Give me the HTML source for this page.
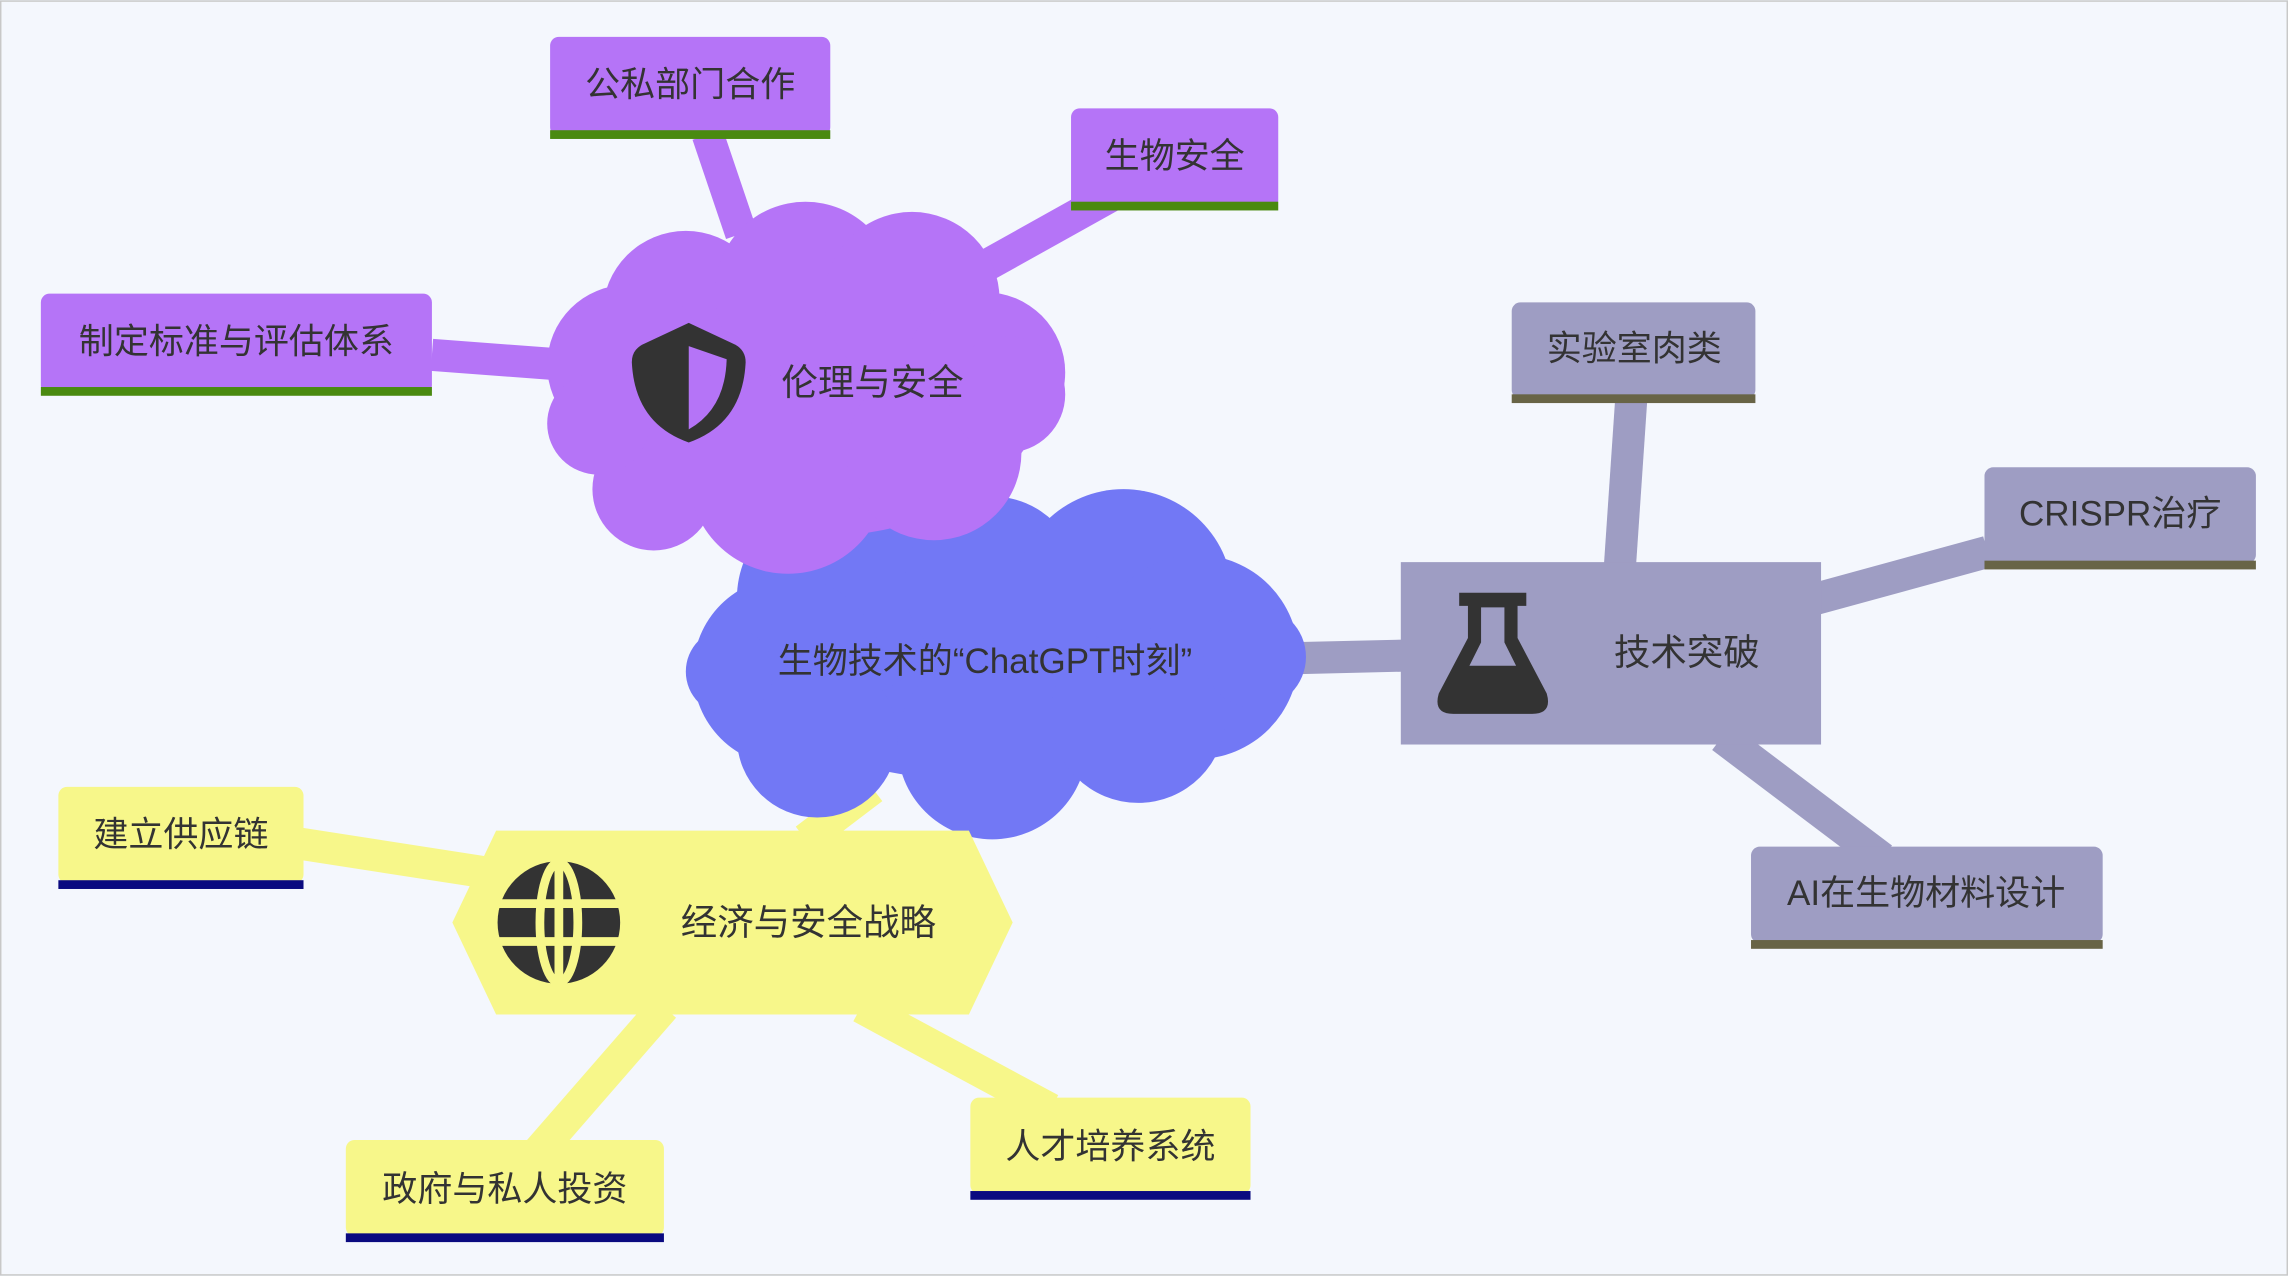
<!DOCTYPE html>
<html><head><meta charset="utf-8"><style>
html,body{margin:0;padding:0;background:#f4f7fd;}
svg{display:block;}
text{font-family:"Liberation Sans","Noto Sans CJK SC",sans-serif;fill:#333;dominant-baseline:central;text-anchor:middle;}
</style></head><body>
<svg width="2288" height="1276" viewBox="0 0 1568 874" xmlns="http://www.w3.org/2000/svg">
<rect x="0.5" y="0.5" width="1567" height="873" fill="#f4f7fd" stroke="#c8c8c8"/>
<g stroke="#b574f7" stroke-width="22" stroke-linecap="butt">
<line x1="508" y1="160" x2="485" y2="92"/>
<line x1="670" y1="185" x2="765" y2="132"/>
<line x1="390" y1="250" x2="296" y2="243"/>
</g>
<g stroke="#9e9dc3" stroke-width="22">
<line x1="880" y1="451" x2="965" y2="449"/>
<line x1="1110" y1="390" x2="1118" y2="272"/>
<line x1="1245" y1="410" x2="1362" y2="378"/>
<line x1="1180" y1="505" x2="1290" y2="588"/>
</g>
<g stroke="#f7f78a" stroke-width="22">
<line x1="598" y1="540" x2="552" y2="575"/>
<line x1="335" y1="598" x2="206" y2="578"/>
<line x1="455" y1="690" x2="368" y2="790"/>
<line x1="590" y1="690" x2="720" y2="760"/>
</g>
<g fill="#7278f5">
<ellipse cx="675" cy="455" rx="170" ry="80"/>
<circle cx="575" cy="410" r="70"/>
<circle cx="680" cy="400" r="60"/>
<circle cx="770" cy="410" r="75"/>
<circle cx="540" cy="460" r="65"/>
<circle cx="820" cy="450" r="70"/>
<circle cx="560" cy="505" r="55"/>
<circle cx="680" cy="510" r="65"/>
<circle cx="780" cy="490" r="60"/>
<ellipse cx="500" cy="460" rx="30" ry="30"/>
<ellipse cx="860" cy="450" rx="35" ry="35"/>
</g>
<text x="675" y="453" font-size="24">生物技术的“ChatGPT时刻”</text>
<g fill="#b574f7">
<ellipse cx="555" cy="268" rx="160" ry="100"/>
<circle cx="470" cy="215" r="57"/>
<circle cx="552" cy="200" r="62"/>
<circle cx="625" cy="205" r="60"/>
<circle cx="430" cy="250" r="55"/>
<circle cx="675" cy="255" r="55"/>
<circle cx="448" cy="335" r="42"/>
<circle cx="540" cy="325" r="68"/>
<circle cx="640" cy="310" r="60"/>
<circle cx="690" cy="270" r="40"/>
<circle cx="410" cy="290" r="35"/>
</g>
<path d="M472 221 L504 236 Q511 240 511 248 Q509 290 472 303 Q435 290 433 248 Q433 240 440 236 Z" fill="#333"/>
<path d="M472 237 L472 294 Q497 280 498 246 Z" fill="#b574f7"/>
<text x="598" y="262" font-size="25">伦理与安全</text>
<g fill="#b574f7">
<rect x="377" y="25" width="192" height="68" rx="6"/>
<rect x="734" y="74" width="142" height="69" rx="6"/>
<rect x="28" y="201" width="268" height="69" rx="6"/>
</g>
<g fill="#4a8a10">
<rect x="377" y="89" width="192" height="6"/>
<rect x="734" y="138" width="142" height="6"/>
<rect x="28" y="265" width="268" height="6"/>
</g>
<text x="473" y="58" font-size="24">公私部门合作</text>
<text x="805" y="107" font-size="24">生物安全</text>
<text x="162" y="234" font-size="24">制定标准与评估体系</text>
<rect x="960" y="385" width="288" height="125" fill="#9e9dc3"/>
<path d="M1000 406 h46 v9 h-6 v22 l20 38 q4 14 -10 14 h-54 q-14 0 -10 -14 l20 -38 v-22 h-6 z" fill="#333"/>
<path d="M1015 416 h16 v24 l8 16 h-32 l8 -16 z" fill="#9e9dc3"/>
<text x="1156" y="447" font-size="25">技术突破</text>
<g fill="#9e9dc3">
<rect x="1036" y="207" width="167" height="66" rx="6"/>
<rect x="1360" y="320" width="186" height="66" rx="6"/>
<rect x="1200" y="580" width="241" height="66" rx="6"/>
</g>
<g fill="#686446">
<rect x="1036" y="270" width="167" height="6"/>
<rect x="1360" y="384" width="186" height="6"/>
<rect x="1200" y="644" width="241" height="6"/>
</g>
<text x="1120" y="239" font-size="24">实验室肉类</text>
<text x="1453" y="352" font-size="24">CRISPR治疗</text>
<text x="1320" y="612" font-size="24">AI在生物材料设计</text>
<polygon points="340,569 664,569 694,632 664,695 340,695 310,632" fill="#f7f78a"/>
<g transform="translate(383,632)">
<circle r="42" fill="#333"/>
<g fill="none" stroke="#f7f78a" stroke-width="6">
<ellipse rx="13" ry="41"/>
<line x1="-42" y1="-13" x2="42" y2="-13"/>
<line x1="-42" y1="13" x2="42" y2="13"/>
<line x1="0" y1="-42" x2="0" y2="42"/>
</g>
</g>
<text x="554" y="632" font-size="25">经济与安全战略</text>
<g fill="#f7f78a">
<rect x="40" y="539" width="168" height="66" rx="6"/>
<rect x="237" y="781" width="218" height="66" rx="6"/>
<rect x="665" y="752" width="192" height="66" rx="6"/>
</g>
<g fill="#0a0a80">
<rect x="40" y="603" width="168" height="6"/>
<rect x="237" y="845" width="218" height="6"/>
<rect x="665" y="816" width="192" height="6"/>
</g>
<text x="124" y="572" font-size="24">建立供应链</text>
<text x="346" y="815" font-size="24">政府与私人投资</text>
<text x="761" y="786" font-size="24">人才培养系统</text>
</svg>
</body></html>
